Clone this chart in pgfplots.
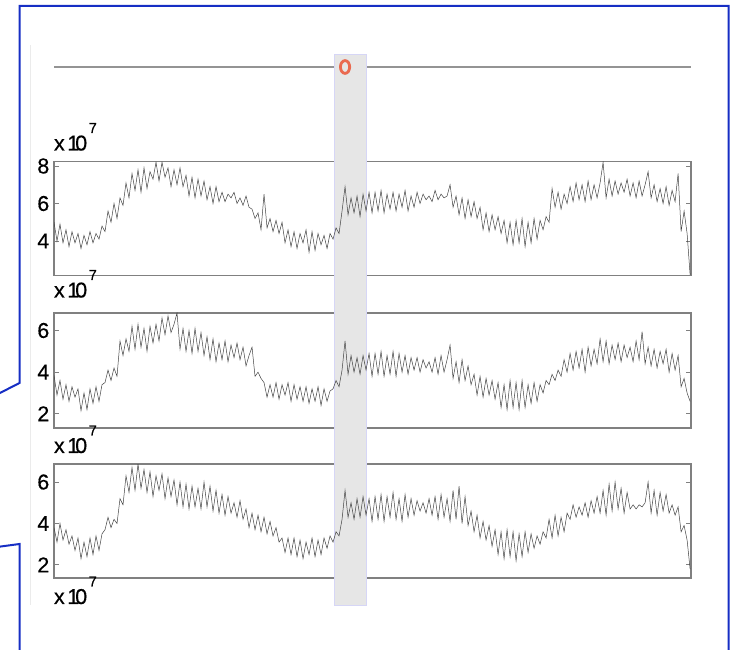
\documentclass[border=0pt]{standalone}
\usepackage{fontspec}
\setmainfont{Liberation Sans}
\newfontfamily\labelfont{Liberation Sans}[FakeBold=0.45]
\usepackage{pgfplots}
\usepackage{pgfplotstable}
\pgfplotsset{compat=1.18}

\definecolor{framegray}{RGB}{128,128,128}
\definecolor{calloutblue}{RGB}{22,46,196}
\definecolor{bandfill}{RGB}{230,230,230}
\definecolor{bandedge}{RGB}{214,214,246}
\definecolor{pickred}{RGB}{234,106,80}
\definecolor{trace}{RGB}{66,66,66}

% three daily series (units of 10^7)
\pgfplotstableread{
s1 s2 s3
5.0 3.85 3.8
4.0 2.9 3.1
4.9 3.6 4.0
3.9 2.7 3.2
4.6 3.4 3.7
3.7 2.6 3.0
4.5 3.3 3.4
3.9 2.8 2.7
4.4 3.2 3.3
3.6 2.15 2.3
4.3 3.0 3.1
3.8 2.2 2.4
4.5 3.2 3.3
3.9 2.5 2.5
4.4 3.3 3.4
4.1 2.6 2.7
4.8 3.4 3.5
4.5 3.5 3.7
5.6 4.1 4.3
5.0 3.6 3.8
6.0 4.2 4.2
5.2 3.8 4.0
6.3 5.5 5.2
5.9 4.8 4.9
7.1 5.6 6.3
6.3 5.0 5.5
7.6 6.2 6.7
6.7 5.1 5.6
7.8 6.3 6.87
6.6 5.2 5.7
7.9 6.1 6.6
6.8 5.0 5.5
7.7 6.2 6.5
7.3 5.4 5.3
8.2 6.3 6.3
7.2 5.5 5.6
8.2 6.6 6.4
7.4 5.8 5.2
7.9 6.7 6.2
6.9 5.9 5.3
7.8 6.3 6.1
7.0 6.84 4.9
7.9 5.1 6.0
6.9 6.1 4.8
7.5 5.0 5.9
6.4 6.0 4.7
7.4 4.9 5.8
6.3 6.1 4.8
7.3 5.0 5.7
6.4 5.9 4.7
7.2 4.8 6.0
6.2 5.7 4.8
6.9 4.6 5.8
6.0 5.6 4.6
6.9 4.5 5.6
6.1 5.4 4.5
6.6 4.6 5.4
6.1 5.5 4.4
6.5 4.5 5.3
6.3 5.3 4.5
6.6 4.7 5.0
6.0 5.4 4.3
6.3 4.6 5.1
5.9 5.2 4.2
6.4 4.3 4.7
5.8 4.8 3.8
5.7 5.2 4.5
5.2 3.8 3.7
5.5 4.0 4.4
4.6 3.7 3.6
6.5 3.5 4.3
4.7 2.8 3.5
5.2 3.4 4.1
4.5 2.8 3.4
5.1 3.5 3.8
4.4 2.7 3.1
5.0 3.4 3.3
3.9 2.9 2.6
4.6 3.5 3.3
3.7 2.6 2.5
4.5 3.4 3.3
3.6 2.7 2.4
4.4 3.3 3.2
3.9 2.6 2.3
4.6 3.3 3.1
3.4 2.5 2.5
4.5 3.2 3.3
3.5 2.6 2.4
4.4 3.3 3.2
3.8 2.4 2.5
4.3 3.2 3.3
3.6 2.6 2.8
4.4 3.1 3.4
4.1 3.2 3.1
4.7 3.6 3.6
4.4 3.3 3.4
5.6 4.1 4.2
6.9 5.5 5.6
5.4 3.9 4.3
6.3 4.8 5.0
5.5 4.0 4.2
6.4 4.7 5.2
5.3 3.9 4.3
6.5 4.8 5.3
5.6 4.1 4.4
6.6 4.9 5.2
5.5 3.8 4.1
6.6 4.9 5.3
5.6 3.9 4.2
6.7 5.0 5.4
5.5 3.8 4.1
6.5 4.8 5.3
5.7 3.9 4.3
6.6 5.0 5.5
5.6 3.8 4.2
6.5 4.9 5.2
5.8 4.0 4.1
6.7 4.8 5.4
5.6 3.9 4.3
6.4 4.7 5.2
5.8 4.1 4.4
6.6 4.7 5.1
6.0 4.0 4.6
6.5 4.6 5.0
6.2 4.2 4.5
6.4 4.5 5.2
6.1 4.0 4.4
6.7 4.7 5.3
6.2 3.9 4.2
6.5 4.8 5.4
6.3 4.0 4.3
6.4 4.6 5.2
7.0 5.3 4.1
5.8 3.7 5.6
6.4 4.5 4.2
5.4 3.5 5.8
6.3 4.6 4.0
5.2 3.6 5.3
6.2 4.3 3.9
5.3 3.4 4.6
6.1 3.9 3.6
5.2 2.9 4.4
5.8 3.8 3.3
4.6 2.8 4.1
5.5 3.7 3.2
4.5 2.9 3.9
5.4 3.6 2.9
4.6 2.7 3.7
5.3 3.5 2.5
4.4 2.3 3.6
5.1 3.4 2.3
3.9 2.2 3.7
5.0 3.6 2.4
3.8 2.3 3.6
5.1 3.5 2.2
3.9 2.2 3.5
5.2 3.6 2.4
3.7 2.3 3.6
5.0 3.4 2.6
3.9 2.5 3.5
5.2 3.5 2.8
4.1 2.6 3.4
5.1 3.4 3.0
4.6 3.0 3.6
5.3 3.6 3.3
5.0 3.4 4.2
6.8 3.9 3.3
5.8 3.6 4.4
6.6 4.1 3.4
5.7 3.8 4.3
6.5 4.6 3.6
6.0 4.0 4.5
6.9 4.9 4.2
6.1 4.1 4.9
7.1 5.0 4.3
6.2 4.2 4.8
7.0 5.1 4.4
6.1 4.0 5.0
7.2 5.2 4.3
6.2 4.3 5.1
7.0 5.1 4.5
6.3 4.4 5.3
7.1 5.6 4.5
8.2 4.5 5.6
6.3 5.5 4.4
7.3 4.4 5.9
6.4 5.3 4.6
7.2 4.6 6.0
6.5 5.4 4.7
7.1 4.5 5.7
6.6 5.3 4.5
7.3 4.7 5.5
6.4 5.2 4.7
7.1 4.5 4.9
6.3 5.5 4.7
7.2 4.6 4.9
6.4 5.95 4.8
7.0 4.4 5.0
7.7 5.2 6.0
6.3 4.3 4.5
7.0 5.1 5.6
6.1 4.2 4.4
6.8 5.0 5.5
6.0 4.4 4.6
6.9 5.1 5.4
5.9 4.0 4.5
6.7 4.9 4.9
6.1 4.1 4.4
7.6 4.8 4.8
4.5 3.3 3.6
5.6 3.7 3.9
4.4 3.0 3.2
2.2 2.6 1.8
}\traffic

\pgfplotsset{
  panel/.style={scale only axis, width=637pt, xmin=0, xmax=212.3, xtick=\empty},
  frame/.style={panel,
    axis line style={framegray, line width=1.2pt},
    ytick style={framegray, line width=0.9pt},
    major tick length=5pt, tick align=inside,
    ytick pos=both, yticklabel pos=left,
    tick label style={font=\labelfont\fontsize{21.5}{23}\selectfont, text=black},
    /pgf/number format/assume math mode=true,
    yticklabel style={inner sep=0pt, xshift=-4.5pt}},
  traceplot/.style={panel, hide axis},
}

% "x 10^7" exponent tag
\newcommand{\expten}{x\kern2.6pt 1\kern-4.1pt 0\kern1.6pt\raisebox{17.5pt}{\fontsize{14.5}{15}\selectfont 7}}

\begin{document}
\begin{tikzpicture}
\useasboundingbox (0pt,0pt) rectangle (733pt,650pt);

% callout border with its pointer notches
\draw[calloutblue, line width=2pt, line join=miter]
  (-3pt,255.5pt) -- (19.5pt,267pt) -- (19.5pt,644pt) -- (728.5pt,644pt) -- (728.5pt,-5pt);
\draw[calloutblue, line width=2pt, line join=miter]
  (-3pt,103pt) -- (19.5pt,106pt) -- (19.5pt,-5pt);
% figure edge
\draw[black!8, line width=1pt] (30.5pt,45pt) -- (30.5pt,605pt);

% --- frames -----------------------------------------------------------
\begin{axis}[panel, hide axis, height=10pt, ymin=-1, ymax=1,
  at={(54pt,583pt)}, anchor=west]
  \addplot[black!42, line width=1.6pt] coordinates {(0,0) (212.3,0)};
\end{axis}

\begin{axis}[frame, height=114pt, ymin=2.15, ymax=8.23, ytick={4,6,8},
  at={(54pt,374.3pt)}, anchor=south west]
\end{axis}

\begin{axis}[frame, height=115pt, ymin=1.32, ymax=6.84, ytick={2,4,6},
  at={(54pt,222pt)}, anchor=south west]
\end{axis}

\begin{axis}[frame, height=114pt, ymin=1.37, ymax=6.87, ytick={2,4,6},
  at={(54pt,72pt)}, anchor=south west]
\end{axis}

% exponent tags
\begin{scope}[every node/.style={anchor=base west, inner sep=0pt,
    font=\labelfont\fontsize{21.5}{23}\selectfont}]
  \node at (53.8pt,499.5pt) {\expten};
  \node at (53.8pt,352.5pt) {\expten};
  \node at (53.8pt,197pt) {\expten};
  \node at (53.8pt,46pt) {\expten};
\end{scope}

% selected window
\fill[bandfill, draw=bandedge, line width=0.8pt] (334.3pt,45pt) rectangle (366.5pt,596pt);

% --- traces -----------------------------------------------------------
\begin{axis}[traceplot, height=10pt, ymin=-1, ymax=1, clip=false,
  at={(54pt,583pt)}, anchor=west]
  \addplot[only marks, mark=o, mark size=6.4pt,
    mark options={draw=pickred, line width=2.8pt, xscale=0.72}]
    coordinates {(97,0)};
\end{axis}

\begin{axis}[traceplot, height=114pt, ymin=2.15, ymax=8.23,
  at={(54pt,374.3pt)}, anchor=south west]
  \addplot[trace, line width=0.5pt] table[x expr=\coordindex, y=s1] {\traffic};
\end{axis}

\begin{axis}[traceplot, height=115pt, ymin=1.32, ymax=6.84,
  at={(54pt,222pt)}, anchor=south west]
  \addplot[trace, line width=0.5pt] table[x expr=\coordindex, y=s2] {\traffic};
\end{axis}

\begin{axis}[traceplot, height=114pt, ymin=1.37, ymax=6.87,
  at={(54pt,72pt)}, anchor=south west]
  \addplot[trace, line width=0.5pt] table[x expr=\coordindex, y=s3] {\traffic};
\end{axis}
\end{tikzpicture}
\end{document}
